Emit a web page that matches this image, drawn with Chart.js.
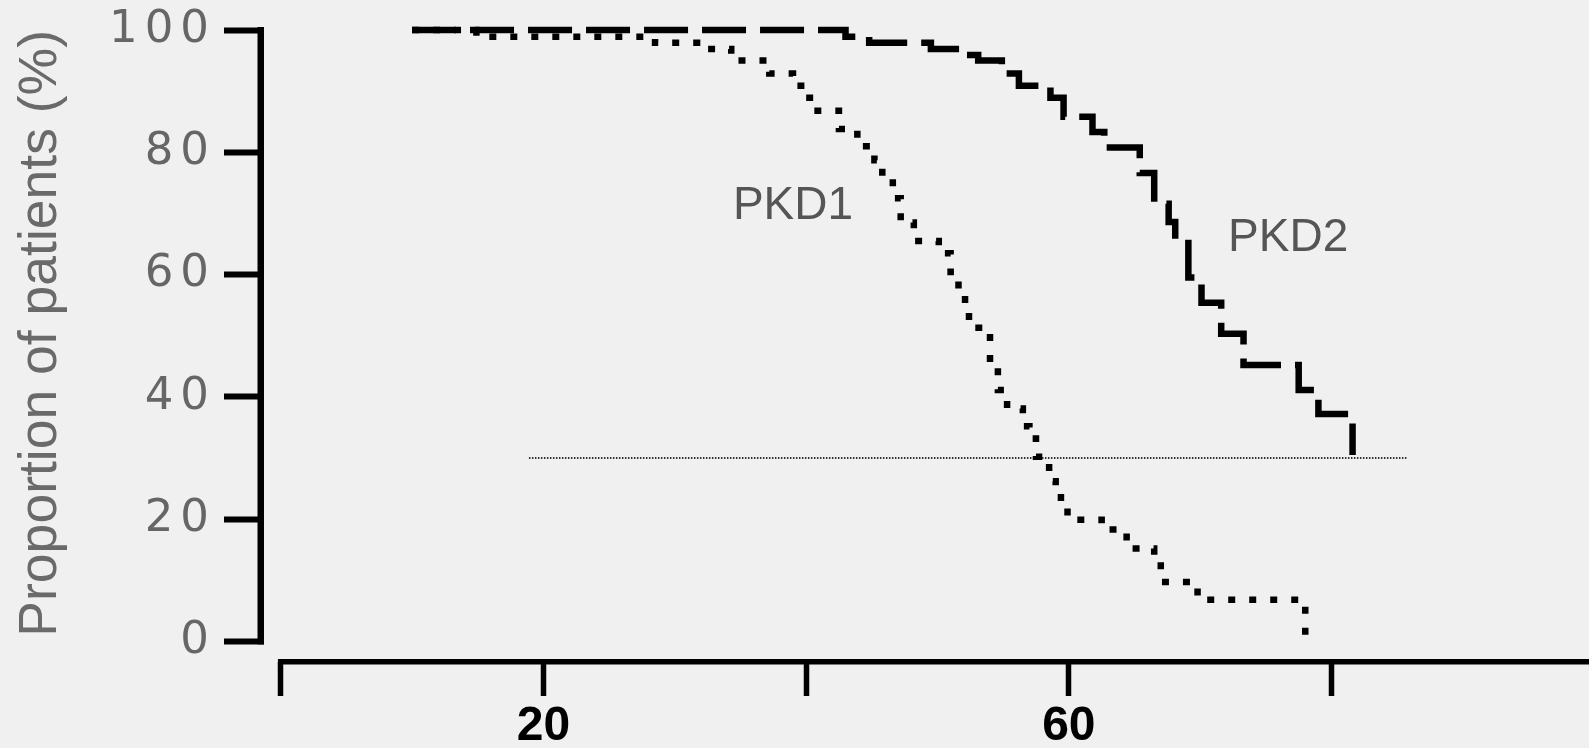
<!DOCTYPE html>
<html>
<head>
<meta charset="utf-8">
<script src="https://cdn.jsdelivr.net/npm/chart.js@4/dist/chart.umd.min.js"></script>
<style>
  html, body { margin: 0; padding: 0; background: #f0f0f0; }
  #wrap { width: 1589px; height: 748px; position: relative; }
</style>
</head>
<body>
<div id="wrap"><canvas id="c"></canvas></div>
<script>
// ---- data ----
const pkd1Age = [10.0, 14.9, 28.5, 31.7, 34.3, 37.2, 39.0, 39.9, 40.6, 42.5, 43.9, 45.2, 45.8, 46.6, 47.2, 48.2, 50.1, 51.0, 51.6, 52.1, 52.4, 53.5, 54.0, 54.6, 55.3, 56.5, 57.0, 57.5, 58.0, 58.5, 59.0, 59.4, 59.9, 62.5, 64.4, 66.5, 67.0, 69.8, 78.0];
const pkd1Pct = [100, 98.9, 97.9, 96.9, 95.0, 92.9, 90.9, 88.9, 86.8, 83.8, 81.0, 78.7, 75.7, 72.5, 68.5, 65.5, 63.5, 60.4, 57.3, 54.3, 51.3, 50.3, 45.5, 41.1, 38.1, 35.2, 33.2, 30.2, 29.2, 26.2, 24.3, 22.3, 19.9, 18.3, 15.2, 13.2, 9.7, 6.8, 0];
const pkd2Age = [10.0, 43.0, 44.8, 49.5, 51.9, 53.1, 54.9, 56.2, 58.6, 59.6, 61.8, 62.7, 65.4, 66.5, 67.6, 68.1, 69.1, 70.1, 71.6, 73.3, 77.5, 79.0, 81.6];
const pkd2Pct = [100, 98.9, 97.9, 96.9, 95.9, 95.0, 92.9, 90.9, 88.9, 85.8, 83.3, 80.8, 76.6, 71.6, 68.6, 65.8, 59.5, 55.4, 50.3, 45.2, 41.1, 37.2, 30.5];
const refLineAge = [18.9, 85.7];
const refLinePct = [30, 30];
const seriesNames = ['PKD1', 'PKD2'];
const yTicks = [0, 20, 40, 60, 80, 100];
const xTicks = [0, 20, 40, 60, 80];
const xLabeled = [20, 60];
const yTitle = 'Proportion of patients (%)';

// ---- styling / layout ----
const toPts = (xs, ys) => xs.map((v, i) => ({ x: v, y: ys[i] }));
const nameAnchors = { PKD1: [39.0, 71.1], PKD2: [76.7, 66.0] };

const decor = {
  id: 'decor',
  beforeDraw(chart) { chart.ctx.letterSpacing = '0px'; },
  afterDatasetsDraw(chart) { chart.ctx.letterSpacing = '7px'; },
  afterDraw(chart) {
    const ctx = chart.ctx, xs = chart.scales.x, ys = chart.scales.y, a = chart.chartArea;
    ctx.letterSpacing = '0px';
    ctx.save();
    ctx.fillStyle = '#000';
    const yTop = ys.getPixelForValue(yTicks[yTicks.length - 1]) - 3;
    const yBot = ys.getPixelForValue(yTicks[0]) + 3;
    ctx.fillRect(a.left - 6.5, yTop, 6.5, yBot - yTop);
    const x0 = xs.getPixelForValue(xTicks[0]) - 2.75;
    ctx.fillRect(x0, a.bottom - 3, a.right - x0, 5.5);
    ctx.fillStyle = '#555';
    ctx.font = '46px "Liberation Sans", Arial, sans-serif';
    ctx.textAlign = 'center';
    ctx.textBaseline = 'middle';
    seriesNames.forEach(n => {
      const p = nameAnchors[n];
      ctx.fillText(n, xs.getPixelForValue(p[0]), ys.getPixelForValue(p[1]));
    });
    ctx.restore();
  }
};

new Chart(document.getElementById('c'), {
  type: 'line',
  data: {
    datasets: [
      { label: seriesNames[0], data: toPts(pkd1Age, pkd1Pct), borderColor: '#000', borderWidth: 6.5,
        borderDash: [7, 14], borderCapStyle: 'butt', stepped: 'before', pointRadius: 0, fill: false, clip: false },
      { label: seriesNames[1], data: toPts(pkd2Age, pkd2Pct), borderColor: '#000', borderWidth: 6.5,
        borderDash: [44, 14], borderCapStyle: 'butt', stepped: 'before', pointRadius: 0, fill: false, clip: false },
      { label: 'ref', data: toPts(refLineAge, refLinePct), borderColor: '#333', borderWidth: 2,
        borderDash: [1.5, 1.5], pointRadius: 0, fill: false, clip: false }
    ]
  },
  options: {
    responsive: true,
    maintainAspectRatio: false,
    animation: false,
    devicePixelRatio: 1,
    layout: { padding: { top: 30, left: 0, right: 0, bottom: 0 } },
    plugins: { legend: { display: false }, tooltip: { enabled: false } },
    scales: {
      x: {
        type: 'linear', min: -1.27, max: 99.6,
        afterBuildTicks: s => { s.ticks = xTicks.map(v => ({ value: v })); },
        afterFit: s => { s.height = 86; },
        border: { display: false },
        grid: { drawOnChartArea: false, drawTicks: true, tickLength: 34, tickWidth: 5.5, tickColor: '#000' },
        ticks: { autoSkip: false, maxRotation: 0, minRotation: 0, padding: 2, color: '#000',
          font: { family: '"Liberation Sans", Arial, sans-serif', size: 48, weight: 'bold' },
          callback: v => xLabeled.includes(v) ? String(v) : '' }
      },
      y: {
        type: 'linear', min: -3.37, max: 100,
        afterBuildTicks: s => { s.ticks = yTicks.map(v => ({ value: v })); },
        afterFit: s => { s.width = 264; },
        border: { display: false },
        grid: { drawOnChartArea: false, drawTicks: true, tickLength: 40, tickWidth: 6, tickColor: '#000' },
        ticks: { z: 1, padding: 8, color: '#666',
          font: { family: '"DejaVu Sans", sans-serif', size: 45, lineHeight: 0.9 },
          callback: v => String(v) },
        title: { display: true, text: yTitle, color: '#6a6a6a', align: 'end',
          font: { family: '"Liberation Sans", Arial, sans-serif', size: 53.5 },
          padding: { top: 9, bottom: 0 } }
      }
    }
  },
  plugins: [decor]
});
</script>
</body>
</html>
